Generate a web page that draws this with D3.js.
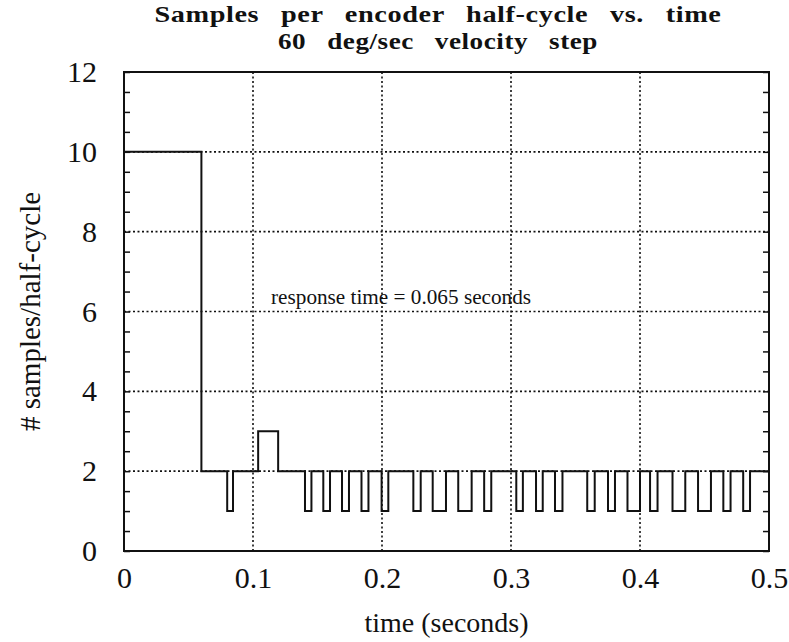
<!DOCTYPE html>
<html>
<head>
<meta charset="utf-8">
<script src="https://cdn.jsdelivr.net/npm/d3@7"></script>
<style>
  body { margin: 0; background: #fff; }
  svg text { font-family: "Liberation Serif", "Times New Roman", serif; fill: #111; }
</style>
</head>
<body>
<div id="chart"></div>
<script>
"use strict";

// step series: time (s) where each level starts, and samples per half-cycle
var stepTimes = [0, 0.060, 0.0800, 0.0845, 0.1040, 0.1195,
	0.1403, 0.1453, 0.1545, 0.1597, 0.1690, 0.1744, 0.1841, 0.1895,
	0.1997, 0.2049, 0.2243, 0.2300, 0.2393, 0.2496, 0.2591, 0.2695,
	0.2792, 0.2847, 0.3041, 0.3092, 0.3194, 0.3246, 0.3341, 0.3399,
	0.3591, 0.3649, 0.3752, 0.3806, 0.3903, 0.4000, 0.4078, 0.4136,
	0.4252, 0.4351, 0.4450, 0.4550, 0.4646, 0.4702, 0.4800, 0.4853, 0.5];
var sampleCounts = [10, 2, 1, 2, 3, 2,
	1, 2, 1, 2, 1, 2, 1, 2,
	1, 2, 1, 2, 1, 2, 1, 2,
	1, 2, 1, 2, 1, 2, 1, 2,
	1, 2, 1, 2, 1, 2, 1, 2,
	1, 2, 1, 2, 1, 2, 1, 2, 2];

var xTicks = [0, 0.1, 0.2, 0.3, 0.4, 0.5];
var yTicks = [0, 2, 4, 6, 8, 10, 12];
var yMinorTicks = d3.range(0, 12.01, 0.5);

var titleLines = ["Samples per encoder half-cycle vs. time", "60 deg/sec velocity step"];
var titleWidths = [567, 320];
var xLabel = "time (seconds)";
var yLabel = "# samples/half-cycle";
var note = "response time = 0.065 seconds";

var W = 789, H = 642;
var margin = {top: 72, right: 20, bottom: 91, left: 124};
var width = W - margin.left - margin.right;
var height = H - margin.top - margin.bottom;

var svg = d3.select("#chart").append("svg")
	.attr("width", W)
	.attr("height", H);

var g = svg.append("g")
	.attr("transform", "translate(" + margin.left + "," + margin.top + ")");

var scaleX = d3.scaleLinear().domain([0, 0.5]).range([0, width]);
var scaleY = d3.scaleLinear().domain([0, 12]).range([height, 0]);

// dotted grid
g.append("g").selectAll("line")
	.data(xTicks.slice(1, -1))
	.enter().append("line")
	.attr("x1", function(d) { return scaleX(d); })
	.attr("x2", function(d) { return scaleX(d); })
	.attr("y1", 0).attr("y2", height)
	.attr("stroke", "#111")
	.attr("stroke-width", 1.6)
	.attr("stroke-dasharray", "2,2.5");

g.append("g").selectAll("line")
	.data(yTicks.slice(1, -1))
	.enter().append("line")
	.attr("y1", function(d) { return scaleY(d); })
	.attr("y2", function(d) { return scaleY(d); })
	.attr("x1", 0).attr("x2", width)
	.attr("stroke", "#111")
	.attr("stroke-width", 1.6)
	.attr("stroke-dasharray", "2,2.5");

// minor ticks on left and right, pointing in
var leftAxis = d3.axisRight(scaleY)
	.tickValues(yMinorTicks)
	.tickSizeInner(6)
	.tickSizeOuter(0)
	.tickFormat("");
var rightAxis = d3.axisLeft(scaleY)
	.tickValues(yMinorTicks)
	.tickSizeInner(6)
	.tickSizeOuter(0)
	.tickFormat("");
g.append("g").call(leftAxis)
	.call(function(s) { s.select(".domain").remove(); })
	.selectAll("line").attr("stroke", "#111").attr("stroke-width", 1.5);
g.append("g").attr("transform", "translate(" + width + ",0)").call(rightAxis)
	.call(function(s) { s.select(".domain").remove(); })
	.selectAll("line").attr("stroke", "#111").attr("stroke-width", 1.5);

// frame
g.append("rect")
	.attr("x", 0).attr("y", 0)
	.attr("width", width).attr("height", height)
	.attr("fill", "none")
	.attr("stroke", "#111")
	.attr("stroke-width", 2);

// tick labels
var xAxis = d3.axisBottom(scaleX)
	.tickValues(xTicks)
	.tickSize(0)
	.tickPadding(16)
	.tickFormat(function(d) { return d === 0 ? "0" : d3.format(".1f")(d); });
g.append("g").attr("transform", "translate(0," + height + ")").call(xAxis)
	.call(function(s) { s.select(".domain").remove(); })
	.selectAll("text")
	.style("font-family", "'Liberation Serif', serif")
	.style("font-size", "30px")
	.attr("fill", "#111");

var yAxis = d3.axisLeft(scaleY)
	.tickValues(yTicks)
	.tickSize(0)
	.tickPadding(27)
	.tickFormat(d3.format("d"));
g.append("g").call(yAxis)
	.call(function(s) { s.select(".domain").remove(); })
	.selectAll("text")
	.style("font-family", "'Liberation Serif', serif")
	.style("font-size", "30px")
	.attr("fill", "#111");

// data line
var pts = stepTimes.map(function(t, i) { return {t: t, v: sampleCounts[i]}; });
var line = d3.line()
	.x(function(d) { return scaleX(d.t); })
	.y(function(d) { return scaleY(d.v); })
	.curve(d3.curveStepAfter);
g.append("path")
	.datum(pts)
	.attr("d", line)
	.attr("fill", "none")
	.attr("stroke", "#111")
	.attr("stroke-width", 2);

// annotation
g.append("text")
	.attr("x", scaleX(0.114))
	.attr("y", scaleY(6.2))
	.style("font-size", "21px")
	.attr("textLength", 260)
	.attr("lengthAdjust", "spacingAndGlyphs")
	.text(note);

// title: two lines in one text element
var title = svg.append("text")
	.attr("class", "title")
	.attr("text-anchor", "middle")
	.style("font-size", "24px")
	.style("font-weight", "bold")
	.style("word-spacing", "12px")
	.style("letter-spacing", "0.5px");
title.selectAll("tspan")
	.data(titleLines)
	.enter().append("tspan")
	.attr("x", 438)
	.attr("y", function(d, i) { return 22 + i * 27; })
	.attr("textLength", function(d, i) { return titleWidths[i]; })
	.attr("lengthAdjust", "spacingAndGlyphs")
	.text(function(d) { return d; });

// axis labels
svg.append("text")
	.attr("x", margin.left + width / 2)
	.attr("y", 632)
	.attr("text-anchor", "middle")
	.style("font-size", "28px")
	.text(xLabel);

svg.append("text")
	.attr("transform", "translate(40," + (margin.top + height / 2) + ") rotate(-90)")
	.attr("text-anchor", "middle")
	.style("font-size", "29px")
	.text(yLabel);
</script>
</body>
</html>
